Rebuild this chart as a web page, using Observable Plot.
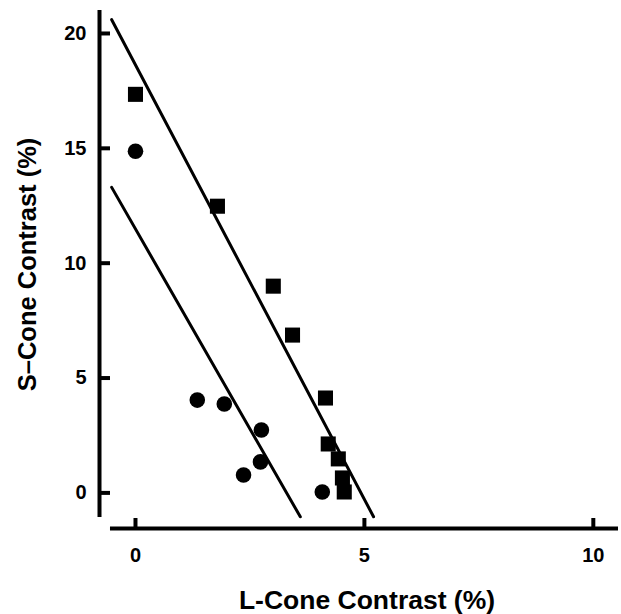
<!DOCTYPE html>
<html>
<head>
<meta charset="utf-8">
<script src="https://cdn.jsdelivr.net/npm/d3@7"></script>
<script src="https://cdn.jsdelivr.net/npm/@observablehq/plot@0.6"></script>
<style>
  html, body { margin: 0; padding: 0; background: #fff; }
  #chart svg { display: block; }
</style>
</head>
<body>
<div id="chart"></div>
<script>
// Squares (upper series)
const squareX = [0, 1.79, 3.01, 3.43, 4.15, 4.21, 4.43, 4.52, 4.56];
const squareY = [17.35, 12.48, 9.0, 6.87, 4.13, 2.13, 1.48, 0.65, 0.04];
// Circles (lower series)
const circleX = [0, 1.35, 1.94, 2.75, 2.73, 2.36, 4.08];
const circleY = [14.87, 4.04, 3.87, 2.74, 1.35, 0.78, 0.04];
// Fitted lines (endpoints)
const upperLineX = [-0.52, 5.2];
const upperLineY = [20.6, -1.04];
const lowerLineX = [-0.52, 3.6];
const lowerLineY = [13.3, -1.04];
// Ticks
const xTicks = [0, 5, 10];
const yTicks = [0, 5, 10, 15, 20];
const xTitle = "L-Cone Contrast (%)";
const yTitle = "S\u2013Cone Contrast (%)";

const squares = squareX.map((x, i) => ({x, y: squareY[i]}));
const circles = circleX.map((x, i) => ({x, y: circleY[i]}));
const upper = upperLineX.map((x, i) => ({x, y: upperLineY[i]}));
const lower = lowerLineX.map((x, i) => ({x, y: lowerLineY[i]}));

const X0 = -0.786, X1 = 10.55, Y0 = -1.55, Y1 = 21;
const font = "'Liberation Sans', Arial, Helvetica, sans-serif";

const chart = Plot.plot({
  width: 621,
  height: 614,
  marginLeft: 99,
  marginRight: 3,
  marginTop: 10,
  marginBottom: 86,
  style: {fontFamily: font, background: "#fff", color: "#000"},
  x: {domain: [X0, X1]},
  y: {domain: [Y0, Y1]},
  marks: [
    // axis lines (offset, Prism-style)
    Plot.ruleX([X0], {y1: -1.07, y2: 21, stroke: "#000", strokeWidth: 4}),
    Plot.ruleY([Y0], {x1: -0.546, x2: X1, stroke: "#000", strokeWidth: 4}),
    // inward ticks
    Plot.ruleY(yTicks, {x1: X0, x2: -0.546, stroke: "#000", strokeWidth: 4}),
    Plot.ruleX(xTicks, {y1: Y0, y2: -1.115, stroke: "#000", strokeWidth: 4}),
    // tick labels
    Plot.axisY(yTicks, {tickSize: 0, tickPadding: 13, fontSize: 20, fontWeight: "bold", label: null}),
    Plot.axisX(xTicks, {tickSize: 0, tickPadding: 19, fontSize: 20, fontWeight: "bold", label: null}),
    // fitted lines
    Plot.line(upper, {x: "x", y: "y", stroke: "#000", strokeWidth: 3}),
    Plot.line(lower, {x: "x", y: "y", stroke: "#000", strokeWidth: 3}),
    // data
    Plot.dot(squares, {x: "x", y: "y", symbol: "square", r: 8.5, fill: "#000", stroke: "none"}),
    Plot.dot(circles, {x: "x", y: "y", symbol: "circle", r: 7.8, fill: "#000", stroke: "none"}),
    // axis titles
    Plot.text([xTitle], {text: d => d, frameAnchor: "bottom", textAnchor: "middle", lineAnchor: "middle", dx: 8, dy: 72, fontSize: 26.5, fontWeight: "bold", fill: "#000"}),
    Plot.text([yTitle], {text: d => d, frameAnchor: "left", textAnchor: "middle", lineAnchor: "middle", rotate: -90, dx: -72, dy: -5, fontSize: 25.5, fontWeight: "bold", fill: "#000"})
  ]
});
document.getElementById("chart").append(chart);
</script>
</body>
</html>
